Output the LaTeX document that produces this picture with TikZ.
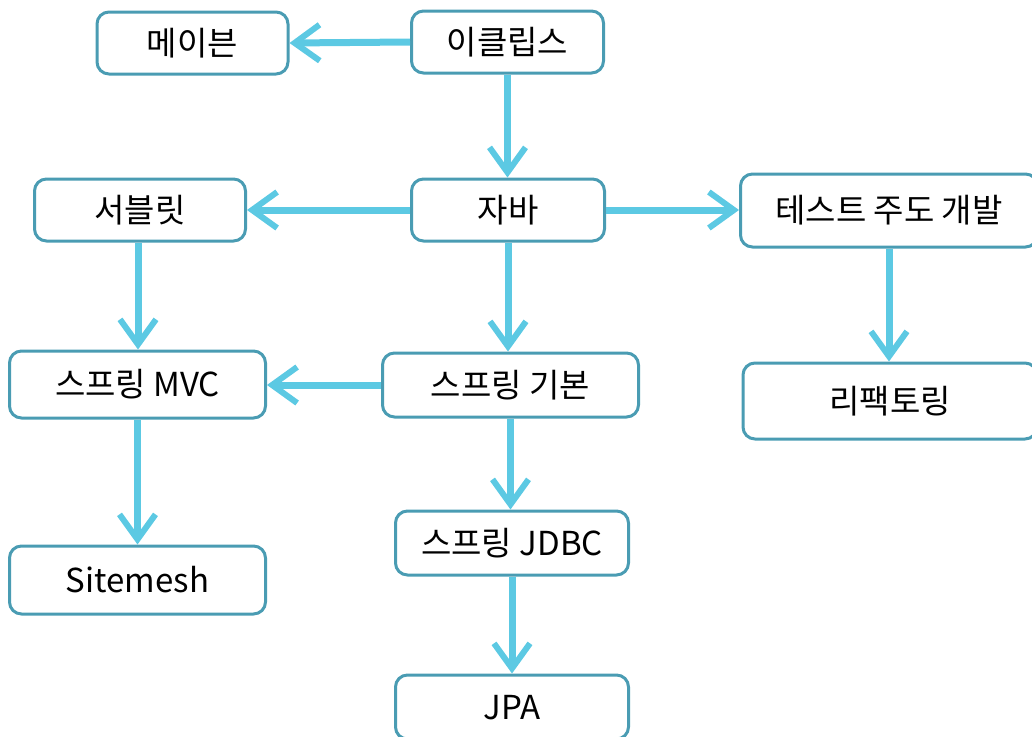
\documentclass[tikz,border=0pt]{standalone}
\usepackage{fontspec}
\setmainfont{Noto Sans CJK KR}
\usetikzlibrary{arrows.meta}
\definecolor{boxline}{HTML}{4A9CB3}
\definecolor{arrowc}{HTML}{5CC9E3}
\begin{document}
\begin{tikzpicture}[x=1pt,y=-1pt,
  box/.style={draw=boxline, line width=3pt, rounded corners=12pt, fill=white,
    inner sep=0pt, text height=26pt, text depth=2pt, font=\fontsize{33}{38}\selectfont},
  flow/.style={draw=arrowc, line width=7pt,
    -{Straight Barb[length=25pt,width=36pt,line width=6pt]}}]
\useasboundingbox (0,0) rectangle (1032,736);
\clip (0,0) rectangle (1032,736);
% nodes
\node[box, minimum width=191pt, minimum height=62pt] (maven)   at (192.5,43)  {메이븐};
\node[box, minimum width=192pt, minimum height=62pt] (eclipse) at (507.5,42)  {이클립스};
\node[box, minimum width=193pt, minimum height=62pt] (java)    at (508,210)   {자바};
\node[box, minimum width=211pt, minimum height=62pt] (servlet) at (140,210)   {서블릿};
\node[box, minimum width=297pt, minimum height=73pt] (tdd)     at (889,210.5) {테스트 주도 개발};
\node[box, minimum width=294pt, minimum height=76pt] (refac)   at (890,401)   {리팩토링};
\node[box, minimum width=256pt, minimum height=67pt] (mvc)     at (137.5,384.5) {스프링 MVC};
\node[box, minimum width=256pt, minimum height=64pt] (spring)  at (510.5,385) {스프링 기본};
\node[box, minimum width=256pt, minimum height=68pt] (sitemesh) at (137.5,580) {Sitemesh};
\node[box, minimum width=233pt, minimum height=64pt] (jdbc)    at (512,543)   {스프링 JDBC};
\node[box, minimum width=233pt, minimum height=64pt] (jpa)     at (512,707)   {JPA};
% connectors
\draw[flow] (eclipse.west) -- (maven.east);
\draw[flow] (eclipse.south) -- (eclipse.south |- java.north);
\draw[flow] (java.west) -- (servlet.east);
\draw[flow] (java.east) -- (java.east -| tdd.west);
\draw[flow] (java.south) -- (java.south |- spring.north);
\draw[flow] ([xshift=-2pt]servlet.south) -- ([xshift=-2pt]servlet.south |- mvc.north);
\draw[flow] (tdd.south) -- (tdd.south |- refac.north);
\draw[flow] (spring.west) -- (spring.west -| mvc.east);
\draw[flow] (mvc.south) -- (mvc.south |- sitemesh.north);
\draw[flow] (spring.south) -- (spring.south |- jdbc.north);
\draw[flow] (jdbc.south) -- (jpa.north);
\end{tikzpicture}
\end{document}
